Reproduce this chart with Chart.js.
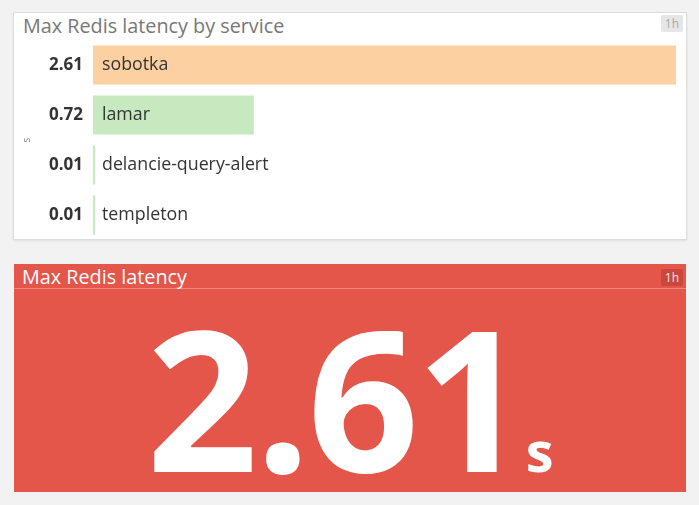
<!DOCTYPE html>
<html>
<head>
<meta charset="utf-8">
<script src="https://cdn.jsdelivr.net/npm/chart.js@4"></script>
<style>
  html,body{margin:0;padding:0;}
  body{width:699px;height:505px;background:#f2f2f2;position:relative;overflow:hidden;font-family:"Open Sans",sans-serif;}
  .panel{position:absolute;box-sizing:border-box;}
  #top{left:13px;top:12px;width:674px;height:228px;background:#fff;border:1px solid #dcdcdc;box-shadow:0 1px 2px rgba(0,0,0,0.08);}
  #top .title{position:absolute;left:9px;top:-1px;font-size:19.8px;color:#777;white-space:nowrap;}
  .badge{position:absolute;font-size:12px;line-height:17px;padding:0 4px;border-radius:2px;}
  #top .badge{right:3px;top:2px;background:#e6e6e6;color:#a9a9a9;}
  #chartWrap{position:absolute;left:0;top:0;width:672px;height:227px;}
  #bottom{left:14px;top:264px;width:672px;height:228px;background:#e4554a;}
  #bottom .title{position:absolute;left:8px;top:-1px;font-size:19.8px;color:#fff;white-space:nowrap;}
  #bottom .sep{position:absolute;left:0;right:0;top:24px;height:1px;background:rgba(255,255,255,0.3);}
  #bottom .badge{right:3px;top:5px;background:#c9473d;color:#fbe3e0;}
  #bigval{position:absolute;left:0;right:0;top:35px;text-align:center;color:#fff;font-weight:700;white-space:nowrap;}
  #bigval .num{font-size:195px;line-height:195px;letter-spacing:-3px;}
  #bigval .unit{font-size:56px;margin-left:1px;}
</style>
</head>
<body>
<script>
// ---- data ----
const services = ['sobotka', 'lamar', 'delancie-query-alert', 'templeton'];
const latencies = [2.61, 0.72, 0.01, 0.01];
const unitLabel = 's';
const timeframe = '1h';
const topTitle = 'Max Redis latency by service';
const bottomTitle = 'Max Redis latency';
const maxLatency = 2.61;
</script>

<div id="top" class="panel">
  <div class="title" id="t1"></div>
  <div class="badge" id="b1"></div>
  <div id="chartWrap"><canvas id="c"></canvas></div>
</div>

<div id="bottom" class="panel">
  <div class="title" id="t2"></div>
  <div class="sep"></div>
  <div class="badge" id="b2"></div>
  <div id="bigval"><span class="num" id="num"></span><span class="unit" id="unit"></span></div>
</div>

<script>
document.getElementById('t1').textContent = topTitle;
document.getElementById('t2').textContent = bottomTitle;
document.getElementById('b1').textContent = timeframe;
document.getElementById('b2').textContent = timeframe;
document.getElementById('num').textContent = maxLatency.toFixed(2);
document.getElementById('unit').textContent = unitLabel;

const barLabelPlugin = {
  id: 'barLabels',
  afterDatasetsDraw(chart) {
    const ctx = chart.ctx;
    const meta = chart.getDatasetMeta(0);
    ctx.save();
    ctx.font = '17.8px "Open Sans", sans-serif';
    ctx.fillStyle = '#333';
    ctx.textAlign = 'left';
    ctx.textBaseline = 'middle';
    meta.data.forEach((bar, i) => {
      ctx.fillText(services[i], bar.base + 9, bar.y);
    });
    ctx.restore();
  }
};

new Chart(document.getElementById('c'), {
  type: 'bar',
  data: {
    labels: services,
    datasets: [{
      data: latencies,
      backgroundColor: (c) => c.dataIndex === 0 ? '#fcd0a0' : '#c6e9c0',
      borderWidth: 0,
      categoryPercentage: 1,
      barPercentage: 0.78
    }]
  },
  options: {
    indexAxis: 'y',
    responsive: true,
    maintainAspectRatio: false,
    animation: false,
    layout: { padding: { top: 27, right: 10, bottom: 0, left: 0 } },
    plugins: { legend: { display: false }, tooltip: { enabled: false } },
    scales: {
      x: {
        display: false,
        min: 0,
        max: Math.max(...latencies)
      },
      y: {
        grid: { display: false, drawTicks: false },
        border: { display: false },
        afterFit: (s) => { s.width = 79; s.paddingTop = 0; s.paddingBottom = 0; },
        ticks: {
          padding: 10,
          color: '#333',
          font: { family: '"Open Sans", sans-serif', size: 17, weight: 'bold' },
          callback: (v, i) => latencies[i].toFixed(2)
        },
        title: {
          display: true,
          text: unitLabel,
          color: '#888',
          font: { family: '"Open Sans", sans-serif', size: 10 },
          padding: { top: 7, bottom: 0 }
        }
      }
    }
  },
  plugins: [barLabelPlugin]
});
</script>
</body>
</html>
